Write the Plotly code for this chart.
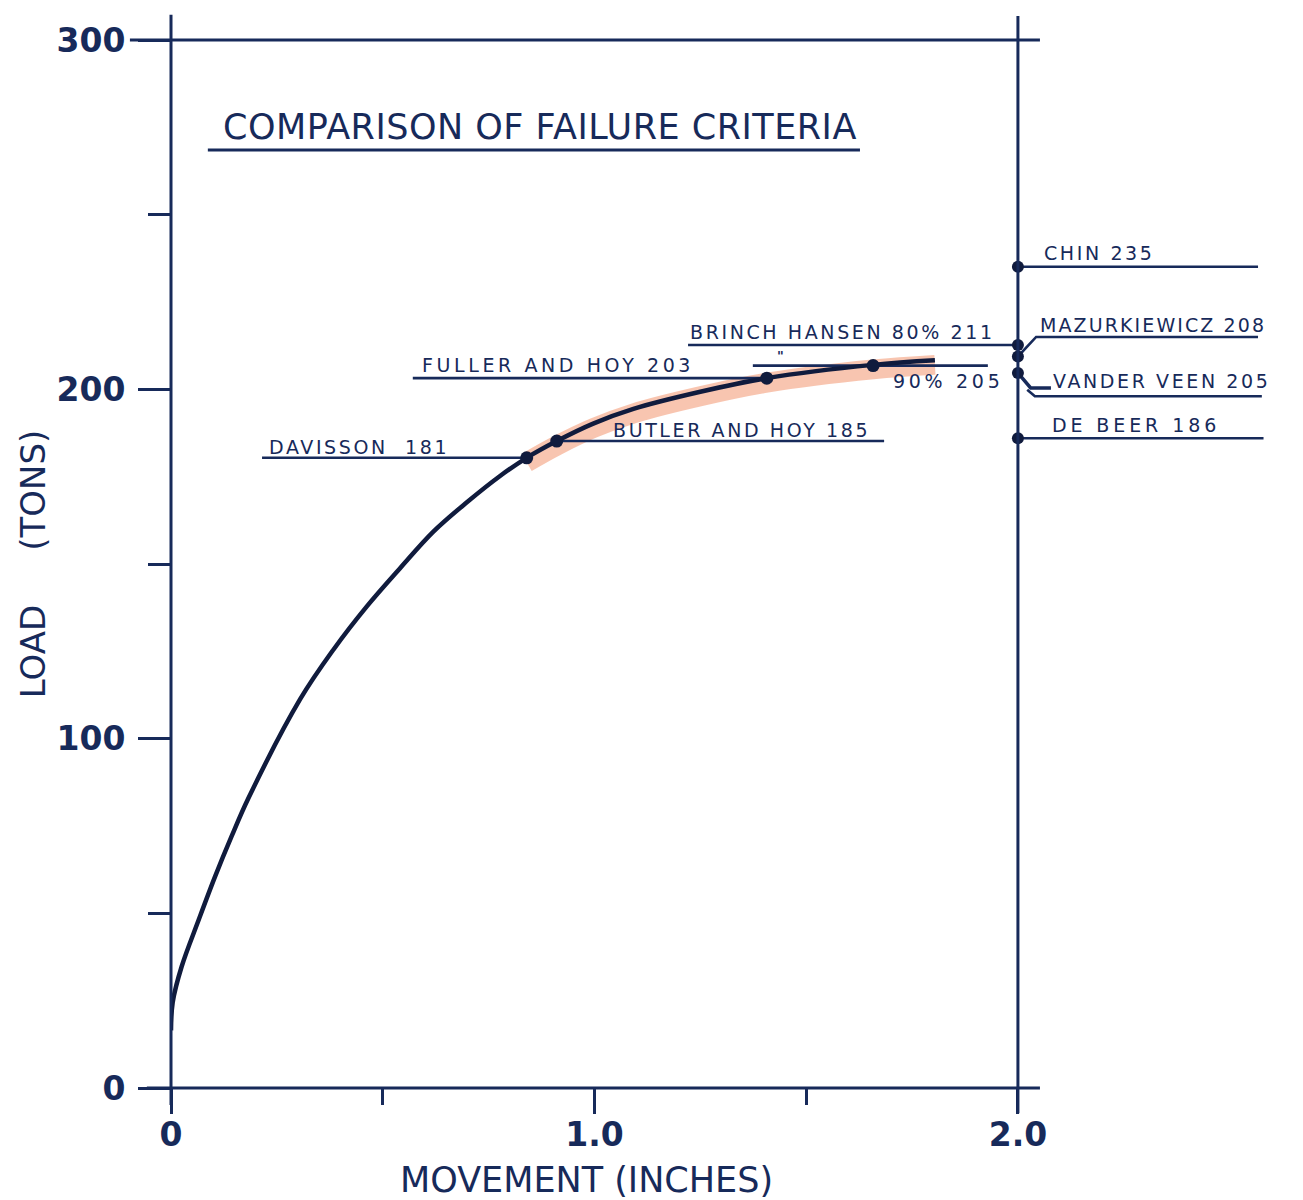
import plotly.graph_objects as go

# ---------------- data ----------------
movement = [0.0, 0.004, 0.025, 0.065, 0.104, 0.143, 0.183, 0.305, 0.383,
            0.462, 0.541, 0.619, 0.698, 0.777, 0.84, 0.911, 0.997, 1.092,
            1.25, 1.407, 1.658, 1.804]
load = [16.5, 24.5, 34.7, 48.0, 60.5, 72.0, 83.0, 111.3, 125.4,
        137.8, 148.8, 159.2, 167.6, 175.2, 180.4, 185.2, 190.2, 194.4,
        199.3, 203.2, 207.0, 208.3]

# criteria marked on the curve
curve_labels = ["DAVISSON  181", "BUTLER AND HOY 185", "FULLER AND HOY 203", "90% 205"]
curve_movement = [0.84, 0.911, 1.407, 1.658]
curve_load = [180.4, 185.2, 203.2, 206.8]

# criteria marked on the 2.0 in. line
axis_labels = ["CHIN 235", "BRINCH HANSEN 80% 211", "MAZURKIEWICZ 208", "VANDER VEEN 205", "DE BEER 186"]
axis_movement = [2.0, 2.0, 2.0, 2.0, 2.0]
axis_load = [235.1, 212.7, 209.4, 204.7, 186.0]

extra_label = "DECOURT 235"

x_tick_vals = [0, 1.0, 2.0]
x_tick_text = ["0", "1.0", "2.0"]
x_minor_vals = [0.5, 1.5]
y_tick_vals = [0, 100, 200, 300]
y_tick_text = ["0", "100", "200", "300"]
y_minor_vals = [50, 150, 250]
right_tick_vals = [50, 100, 150, 250]

title_text = "COMPARISON OF FAILURE CRITERIA"
x_title = "MOVEMENT (INCHES)"
y_title = "LOAD\u00a0\u00a0\u00a0\u00a0\u00a0(TONS)"

# ---------------- style ----------------
NAVY = "#172a5a"
INK = "#101b3d"
FONT = "DejaVu Sans"
XMAX = 2.6
YMAX = 300
W, H = 1295, 1192          # page body has an 8 px margin


def spaced(t, ls=2.6):
    return f'<span style="letter-spacing:{ls}px">{t}</span>'


fig = go.Figure()

# orange highlighter band under the upper part of the curve
i0 = movement.index(curve_movement[0])
fig.add_trace(go.Scatter(
    x=movement[i0:], y=[v - 1.3 for v in load[i0:]], mode="lines",
    line=dict(color="rgba(242,150,112,0.55)", width=20, shape="spline", smoothing=1.0),
    hoverinfo="skip", showlegend=False))


def add_line(xs, ys, width=2.6, color=NAVY):
    fig.add_trace(go.Scatter(x=xs, y=ys, mode="lines",
                             line=dict(color=color, width=width),
                             hoverinfo="skip", showlegend=False))


# leader lines for the curve criteria
add_line([0.215, curve_movement[0]], [curve_load[0]] * 2)          # Davisson
add_line([curve_movement[1], 1.684], [curve_load[1]] * 2)          # Butler & Hoy
add_line([0.571, curve_movement[2]], [curve_load[2]] * 2)          # Fuller & Hoy
add_line([1.374, 1.929], [curve_load[3]] * 2)                      # 90 %
add_line([1.221, axis_movement[1]], [axis_load[1]] * 2)            # Brinch 80 %

# leader lines for the axis criteria
add_line([axis_movement[0], 2.567], [axis_load[0]] * 2)            # Chin
add_line([axis_movement[2], 2.043, 2.567], [axis_load[2], 215.0, 215.0])   # Mazurkiewicz
add_line([axis_movement[3], 2.03, 2.078], [axis_load[3], 200.4, 200.4], width=3.5)  # Vander Veen
add_line([2.022, 2.04, 2.576], [199.9, 198.0, 198.0])
add_line([axis_movement[4], 2.58], [axis_load[4]] * 2)             # De Beer

# load-movement curve
fig.add_trace(go.Scatter(x=movement, y=load, mode="lines",
                         line=dict(color=INK, width=4.5, shape="spline", smoothing=1.0),
                         hoverinfo="skip", showlegend=False))

# points
fig.add_trace(go.Scatter(x=curve_movement, y=curve_load, mode="markers",
                         marker=dict(color=INK, size=13), cliponaxis=False,
                         hoverinfo="skip", showlegend=False))
fig.add_trace(go.Scatter(x=axis_movement, y=axis_load, mode="markers",
                         marker=dict(color=INK, size=12), cliponaxis=False,
                         hoverinfo="skip", showlegend=False))

# ---------------- text ----------------
lab_font = dict(family=FONT, size=19, color=NAVY)
ann = []


def label(text, x, y, anchor="left", ls=2.6, font=lab_font):
    ann.append(dict(text=spaced(text, ls), x=x, y=y, xref="x", yref="y",
                    xanchor=anchor, yanchor="middle", showarrow=False, font=font))


label(curve_labels[0], 0.226, 183.6)
label(curve_labels[1], 1.038, 188.4)
label(curve_labels[2], 0.588, 207.0, ls=3.6)
label(curve_labels[3], 1.970, 202.4, anchor="right", ls=3.7)
label('"', 1.440, 209.8, anchor="center", ls=0,
      font=dict(family=FONT, size=13, color=NAVY, weight="bold"))
label(axis_labels[0], 2.058, 239.0)
label(axis_labels[1], 1.220, 216.5)
label(axis_labels[2], 2.047, 218.4, ls=2.1)
label(axis_labels[3], 2.078, 202.4)
label(axis_labels[4], 2.076, 189.8, ls=3.9)

ann.append(dict(text=f"<b>{extra_label}</b>", x=2.659, y=265.1, xref="x", yref="y",
                xanchor="right", yanchor="middle", showarrow=False,
                font=dict(family="Liberation Sans", size=18, color="#000000")))

ann.append(dict(text=x_title, x=0.982, y=-(1180 - 1088) / 1048, xref="x", yref="paper",
                xanchor="center", yanchor="middle", showarrow=False,
                font=dict(family=FONT, size=35, color=NAVY)))


# ---------------- frame lines ----------------
def px(v):
    return v / XMAX


def py(v):
    return v / YMAX


lw = 3
shapes = [
    dict(type="line", xref="paper", yref="paper", x0=px(0), x1=px(0), y0=py(-4.9), y1=py(307.2),
         line=dict(color=NAVY, width=lw)),
    dict(type="line", xref="paper", yref="paper", x0=px(-0.057), x1=px(2.052), y0=py(0), y1=py(0),
         line=dict(color=NAVY, width=lw)),
    dict(type="line", xref="paper", yref="paper", x0=px(-0.097), x1=px(2.052), y0=py(300), y1=py(300),
         line=dict(color=NAVY, width=lw)),
    dict(type="line", xref="paper", yref="paper", x0=px(2.0), x1=px(2.0), y0=py(-7.2), y1=py(306.9),
         line=dict(color=NAVY, width=lw)),
    # title underline
    dict(type="line", xref="x", yref="y", x0=0.087, x1=1.627, y0=268.5, y1=268.5,
         line=dict(color=NAVY, width=lw)),
]

tick_font = dict(family=FONT, size=33, color=NAVY, weight="bold")

fig.update_layout(
    width=W, height=H,
    margin=dict(l=163, r=31, t=32, b=112, autoexpand=False),
    paper_bgcolor="white", plot_bgcolor="white",
    showlegend=False,
    title=dict(text=spaced(title_text, 0.5), x=532 / W, xanchor="center", y=1 - 119 / H,
               yanchor="middle", xref="container", yref="container",
               font=dict(family=FONT, size=35, color=NAVY)),
    xaxis=dict(range=[0, XMAX], showgrid=False, zeroline=False, showline=False,
               tickmode="array", tickvals=x_tick_vals, ticktext=x_tick_text,
               ticks="outside", ticklen=25, tickwidth=3, tickcolor=NAVY,
               ticklabelstandoff=-8, tickfont=tick_font,
               minor=dict(tickmode="array", tickvals=x_minor_vals, ticks="outside",
                          ticklen=16, tickwidth=3, tickcolor=NAVY, showgrid=False)),
    xaxis2=dict(range=[0, XMAX], overlaying="x", side="top", anchor="y",
                showgrid=False, zeroline=False, showline=False, showticklabels=False,
                tickmode="array", tickvals=[1.0], ticks="outside", ticklen=27,
                tickwidth=3, tickcolor=NAVY,
                minor=dict(tickmode="array", tickvals=x_minor_vals, ticks="outside",
                           ticklen=17, tickwidth=3, tickcolor=NAVY, showgrid=False)),
    yaxis=dict(range=[0, YMAX], showgrid=False, zeroline=False, showline=False,
               tickmode="array", tickvals=y_tick_vals, ticktext=y_tick_text,
               ticks="outside", ticklen=32, tickwidth=3, tickcolor=NAVY,
               ticklabelstandoff=6, tickfont=tick_font,
               title=dict(text=y_title, standoff=0, font=dict(family=FONT, size=34, color=NAVY)),
               minor=dict(tickmode="array", tickvals=y_minor_vals, ticks="outside",
                          ticklen=22, tickwidth=3, tickcolor=NAVY, showgrid=False)),
    yaxis2=dict(range=[0, YMAX], overlaying="y", side="right", anchor="free",
                position=2.0 / XMAX, showgrid=False, zeroline=False, showline=False,
                showticklabels=False, tickmode="array", tickvals=right_tick_vals,
                ticks="outside", ticklen=24, tickwidth=3, tickcolor=NAVY),
    annotations=ann,
    shapes=shapes,
)

fig.write_html("out.html")
